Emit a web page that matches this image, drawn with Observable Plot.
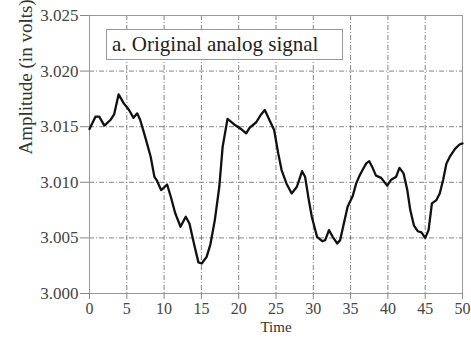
<!DOCTYPE html>
<html>
<head>
<meta charset="utf-8">
<script src="https://cdn.jsdelivr.net/npm/d3@7"></script>
<script src="https://cdn.jsdelivr.net/npm/@observablehq/plot@0.6"></script>
<style>
  body { margin: 0; background: #fff; }
  #chart { position: relative; width: 471px; height: 337px; overflow: hidden; }
  #chart svg, #chart svg text { font-family: "Liberation Serif", "DejaVu Serif", serif !important; }
  .legend {
    position: absolute; left: 106px; top: 29px; width: 237px; height: 31px;
    box-sizing: border-box; border: 1px solid #999; background: #fff;
    font-family: "Liberation Serif", "DejaVu Serif", serif; font-size: 21px; color: #222;
    padding-left: 5px; line-height: 29px; white-space: nowrap;
  }
</style>
</head>
<body>
<div id="chart"></div>
<script>
// Sampled analog signal: time and amplitude (volts)
const time = [0.0, 0.8, 1.3, 2.0, 2.8, 3.3, 3.9, 4.6, 5.3, 5.9, 6.4, 6.8, 7.5, 8.2, 8.7, 9.0, 9.6, 10.1, 10.4, 10.9,
  11.5, 12.2, 12.9, 13.4, 14.0, 14.6, 15.05, 15.7, 16.2, 16.8, 17.4, 17.85, 18.5, 19.4, 20.3, 21.0, 21.45, 22.35, 23.0, 23.5,
  24.2, 24.75, 25.3, 25.75, 26.4, 27.1, 27.8, 28.5, 28.9, 29.4, 29.8, 30.5, 31.2, 31.6, 32.1, 32.6, 33.2, 33.6, 34.2, 34.6,
  35.3, 35.75, 36.2, 36.6, 37.1, 37.5, 37.95, 38.4, 39.1, 39.9, 40.4, 41.1, 41.55, 42.1, 42.6, 43.0, 43.5, 44.0, 44.5, 45.0,
  45.45, 45.9, 46.5, 46.95, 47.4, 47.85, 48.3, 49.0, 49.6, 50.0];
const amplitude = [3.0148, 3.0159, 3.0159, 3.0151, 3.0156, 3.0161, 3.0179, 3.0171, 3.0165, 3.0158, 3.0162, 3.0156, 3.0140, 3.0123, 3.0105, 3.0102, 3.0093, 3.0096, 3.0098, 3.0087,
  3.0072, 3.0060, 3.0069, 3.0063, 3.0045, 3.0028, 3.0027, 3.0033, 3.0044, 3.0066, 3.0096, 3.0132, 3.0157, 3.0152, 3.0148, 3.0144, 3.0149, 3.0154, 3.0161, 3.0165,
  3.0155, 3.0147, 3.0126, 3.0111, 3.0099, 3.0090, 3.0096, 3.0110, 3.0105, 3.0084, 3.0069, 3.0051, 3.0047, 3.0048, 3.0057, 3.0051, 3.0045, 3.0048, 3.0066, 3.0078,
  3.0088, 3.0099, 3.0106, 3.0111, 3.0117, 3.0119, 3.0113, 3.0106, 3.0104, 3.0097, 3.0102, 3.0105, 3.0113, 3.0108, 3.0093, 3.0075, 3.0061, 3.0056, 3.0055, 3.0050,
  3.0057, 3.0081, 3.0084, 3.0090, 3.0102, 3.0117, 3.0123, 3.0130, 3.0134, 3.0135];

const xTicks = [0, 5, 10, 15, 20, 25, 30, 35, 40, 45, 50];
const yTicks = [3.000, 3.005, 3.010, 3.015, 3.020, 3.025];
const legendText = "a. Original analog signal";
const xLabel = "Time";
const yLabel = "Amplitude (in volts)";

const signal = time.map((t, i) => ({t, v: amplitude[i]}));
const gridStyle = {stroke: "#555", strokeOpacity: 0.9, strokeWidth: 0.8, strokeDasharray: "5,2,1,2"};

const chart = Plot.plot({
  width: 471,
  height: 337,
  marginLeft: 89,
  marginRight: 9,
  marginTop: 15,
  marginBottom: 44,
  style: {fontFamily: '"Liberation Serif", "DejaVu Serif", serif', fontSize: "16px", background: "#fff", color: "#444"},
  x: {domain: [0, 50]},
  y: {domain: [3.000, 3.025]},
  marks: [
    Plot.gridX(xTicks.slice(1, -1), gridStyle),
    Plot.gridY(yTicks.slice(1, -1), gridStyle),
    Plot.frame({stroke: "#999"}),
    Plot.axisX(xTicks, {tickSize: 6, tickPadding: 3, stroke: "#888", fill: "#444", label: null, tickFormat: d => String(d)}),
    Plot.axisY(yTicks, {tickSize: 9, tickPadding: 2, fontSize: 17, stroke: "#888", fill: "#444", label: null, tickFormat: d3.format(".3f")}),
    Plot.line(signal, {x: "t", y: "v", stroke: "#111", strokeWidth: 2.3, strokeLinejoin: "round"}),
    Plot.text([xLabel], {frameAnchor: "bottom", dy: 28, lineAnchor: "top", fontSize: 15, fill: "#333"}),
    Plot.text([yLabel], {frameAnchor: "left", dx: -64, rotate: -90, fontSize: 19, fill: "#333"})
  ]
});

const host = document.getElementById("chart");
host.appendChild(chart);
const legend = document.createElement("div");
legend.className = "legend";
legend.textContent = legendText;
host.appendChild(legend);
</script>
</body>
</html>
